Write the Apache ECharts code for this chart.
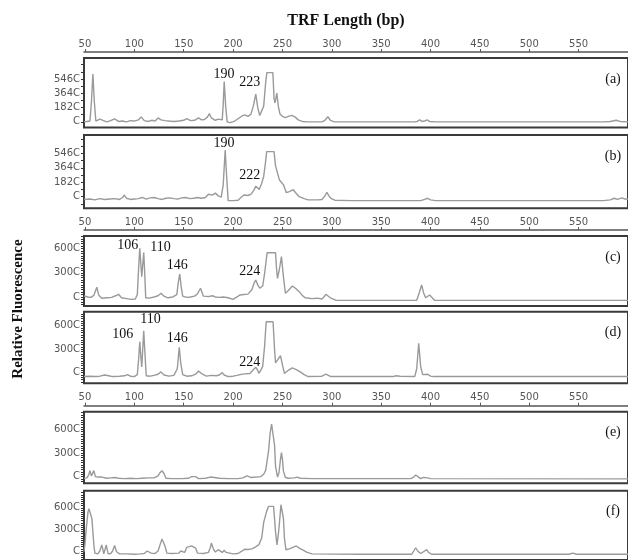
<!DOCTYPE html>
<html>
<head>
<meta charset="utf-8">
<script src="https://cdn.jsdelivr.net/npm/echarts@6/dist/echarts.min.js"></script>
<style>
  html, body { margin: 0; padding: 0; background: #fff; }
  #chart { width: 628px; height: 560px; }
</style>
</head>
<body>
<div id="chart"></div>
<script>
// TRF length ticks (bp)
const bpTicks = [50, 100, 150, 200, 250, 300, 350, 400, 450, 500, 550];

// y tick values and their labels (as printed on the scan)
const yTicksAB = [0, 1820, 3640, 5460];
const yLabelsAB = ['C', '182C', '364C', '546C'];
const yTicksCF = [0, 3000, 6000];
const yLabelsCF = ['C', '300C', '600C'];

// electropherogram traces: [bp, fluorescence]
const traceA = [[49,0],[52,50],[55,100],[56.5,2500],[58,6100],[59.5,2500],[61,100],[63,300],[65,350],[67,100],[72,0],[76,150],[80,380],[84,50],[88,100],[92,0],[96,150],[100,100],[104,250],[107,630],[110,150],[114,50],[118,200],[121,100],[124,500],[127,250],[131,150],[135,100],[140,50],[145,100],[150,200],[153,400],[157,150],[161,200],[165,500],[168,250],[171,300],[174,600],[176,1050],[178,500],[180,250],[182,200],[185,350],[187,500],[189,250],[190,2200],[191,5130],[192.5,2000],[194,0],[197,-100],[201,50],[205,400],[209,750],[212,900],[215,700],[218,950],[220.5,2000],[223,3540],[225,1800],[227,800],[229,700],[231,2000],[233,5000],[234.2,6270],[240.3,6270],[241.5,3000],[242.5,2400],[244.3,3670],[245.8,2000],[247.5,1000],[250,700],[253,550],[256,700],[259.4,830],[263,600],[266,250],[270,50],[275,0],[290,0],[293,200],[296,650],[298.5,200],[302,20],[310,0],[384,0],[386.5,50],[389,250],[391.5,50],[394,100],[396.5,250],[399,50],[405,0],[575,0],[582,50],[588,200],[592,50],[600,0]];

const traceB = [[49,-350],[55,-300],[60,-400],[65,-250],[70,-350],[75,-300],[80,-250],[85,-350],[88,-100],[90,210],[92,-200],[96,-350],[100,-300],[104,-250],[108,-100],[112,-300],[116,-150],[120,-100],[124,-250],[128,-350],[132,-200],[136,-150],[140,-250],[144,-300],[148,-150],[152,-100],[156,-250],[160,-200],[164,-100],[168,-200],[172,-100],[175,300],[177,500],[179,200],[182,450],[185,100],[188,-50],[190,1500],[192,5900],[193.5,2500],[195,-500],[200,-500],[205,-450],[208,-100],[211,210],[215,150],[218,300],[221,800],[223,1330],[225,1100],[226.5,900],[229,1700],[231,2560],[233,4500],[234,5700],[241.5,5700],[243,3900],[245,4000],[247,2100],[251,1500],[254,500],[257,650],[261,880],[264,400],[267,0],[272,-250],[276,-400],[286,-400],[290,-350],[293,100],[295,560],[297,100],[299,-200],[303,-450],[320,-500],[390,-500],[394,-350],[397,-200],[400,-400],[405,-500],[575,-500],[582,-400],[586,-200],[589,-350],[591,-250],[594,-150],[597,-300],[600,-300]];

const traceC = [[49,120],[53,0],[56,-50],[59,200],[62,1200],[64,200],[67,-150],[72,-100],[77,-50],[81,150],[84,330],[87,-100],[92,-200],[97,-300],[101,-250],[103,300],[104.5,4000],[105.5,6040],[106.5,4200],[107.5,2500],[108.5,4000],[109.5,5500],[110.5,3000],[111.5,-100],[115,-150],[120,0],[124,150],[127,460],[130,100],[134,-100],[139,0],[143,300],[144.5,1800],[146,2850],[147.5,1200],[149,100],[153,-50],[157,0],[161,100],[164,400],[167,1080],[170,100],[175,50],[179,150],[182,0],[186,-50],[190,0],[195,-100],[200,-300],[204,0],[207,250],[211,300],[215,350],[219,900],[221.5,1800],[223,2100],[225,1500],[227,1080],[230,1360],[232,3000],[234.5,5490],[243,5490],[244,3500],[245,2300],[247,3500],[249,5000],[251,2500],[253,460],[256,800],[260,1360],[264,1000],[267,660],[270,200],[273,-100],[280,-200],[285,-150],[290,-250],[292,0],[294,330],[296,100],[299,-150],[304,-400],[380,-420],[386,-400],[388.5,500],[391,1490],[393,500],[395,-100],[397,100],[399,250],[401,0],[404,-400],[600,-420]];

const traceD = [[49,-500],[55,-450],[60,-500],[65,-450],[70,-300],[72,-80],[74,-400],[78,-500],[85,-450],[90,-400],[93,-250],[96,-450],[100,-500],[103,-250],[104.5,2000],[105.5,3960],[106.5,2200],[107.5,730],[108.5,3000],[109.5,5360],[110.5,3000],[112,-400],[116,-450],[120,-350],[124,-200],[127,100],[130,-300],[135,-450],[140,-350],[143.5,500],[145.5,3240],[147,1200],[149,-250],[153,-450],[158,-400],[162,-200],[165,200],[167,300],[169,-200],[173,-450],[178,-350],[183,-400],[186,-300],[189,0],[191,-300],[195,-500],[200,-450],[204,-350],[207,-250],[212,-150],[217,-100],[220,300],[223,690],[225,300],[226,-80],[228,300],[230,800],[232,3500],[233.5,6500],[240.5,6500],[242,3000],[243,1240],[246,1800],[248,2170],[250,1000],[252,-100],[256,300],[260,600],[264,400],[268,100],[272,-250],[276,-500],[290,-450],[292,-300],[294,-200],[296,-350],[299,-500],[362,-500],[365,-400],[367,-250],[369,-450],[384,-500],[386,500],[388,3750],[390,800],[392,-250],[394,-350],[397,-200],[400,-450],[403,-500],[600,-500]];

const traceE = [[49,-200],[52,-150],[54,300],[55,760],[56.5,100],[58,300],[59,760],[60.5,0],[63,-50],[65,200],[67,-50],[72,-200],[76,-150],[80,-100],[84,-200],[90,-250],[96,-200],[102,-250],[108,-200],[114,-150],[120,-150],[124,100],[126,500],[128,760],[130,400],[132,-200],[138,-250],[148,-250],[155,-200],[158,0],[160,150],[162,0],[165,-250],[172,-200],[177,-50],[179,100],[181,-100],[186,-200],[195,-250],[205,-250],[210,-150],[214,100],[218,-100],[224,-50],[228,0],[231,300],[233,800],[236,3330],[237.5,5500],[239,6670],[241,6670],[242,4000],[243,1300],[245,-50],[246.5,500],[248,2200],[249,3040],[250,2200],[251,700],[253,-100],[256,-200],[262,-150],[265,-50],[268,-200],[280,-250],[380,-250],[383,-50],[385,210],[387,0],[390,-250],[393,-100],[395,0],[397,-150],[400,-250],[600,-280]];

const traceF = [[49,-100],[50,1000],[51,2650],[53,5400],[54,5860],[56,5860],[57,4500],[58,2650],[59,800],[60,-300],[63,-400],[65,0],[67,850],[68,300],[69,-400],[70.5,300],[71.5,850],[72.5,200],[73.5,-400],[76,-350],[78,0],[80,760],[82,-100],[85,-400],[92,-400],[100,-450],[106,-400],[110,-350],[113,0],[115,180],[117,-300],[121,-350],[124,0],[126,850],[128,1660],[130,1400],[131,700],[133,-300],[138,-350],[145,-300],[147,0],[149,180],[151,-200],[153,500],[155,760],[158,700],[160,760],[162,400],[164,-300],[170,-350],[175,-200],[177,500],[178,1100],[180,300],[182,-150],[185,180],[187,0],[189,-200],[191,100],[193,-200],[195,-400],[200,-400],[205,-350],[208,-100],[212,250],[215,200],[219,300],[222,500],[226,850],[229,1800],[231,3970],[234,5500],[236,6200],[241,6200],[242,4500],[243,2650],[244.5,850],[246,2500],[247,3970],[248.5,6420],[250,6420],[251,4500],[252,1800],[253.5,180],[257,300],[260,480],[264,700],[267,400],[270,180],[275,-200],[280,-400],[330,-450],[332,-300],[334,-450],[360,-450],[362,-300],[364,-450],[381,-450],[383,0],[385,450],[387,0],[390,-350],[393,-100],[396,180],[398,-200],[401,-450],[540,-450],[544,-300],[548,-450],[600,-450]];

// peak annotations: [bp, fluorescence, text]
const notesA = [[190.7, 6100, '190'], [216.8, 4970, '223']];
const notesB = [[190.7, 6790, '190'], [216.8, 2740, '222']];
const notesC = [[93.2, 6450, '106'], [126.4, 6200, '110'], [143.5, 3970, '146'], [216.8, 3220, '224']];
const notesD = [[88.2, 4940, '106'], [116.3, 6860, '110'], [143.5, 4430, '146'], [216.8, 1370, '224']];

// panel layout
const panels = [
    { tag: '(a)', trace: traceA, notes: notesA, top: 58,    height: 69.5, min: -720,  max: 8130, ab: true,  axis: true },
    { tag: '(b)', trace: traceB, notes: notesB, top: 135,   height: 73.3, min: -1470, max: 7800, ab: true,  axis: false },
    { tag: '(c)', trace: traceC, notes: notesC, top: 236,   height: 70,   min: -1120, max: 7560, ab: false, axis: true },
    { tag: '(d)', trace: traceD, notes: notesD, top: 311.7, height: 71.6, min: -1360, max: 7790, ab: false, axis: false },
    { tag: '(e)', trace: traceE, notes: [],     top: 411.7, height: 71.6, min: -840,  max: 8230, ab: false, axis: true },
    { tag: '(f)', trace: traceF, notes: [],     top: 490.7, height: 72,   min: -1250, max: 8370, ab: false, axis: false }
];

const serif = '"Liberation Serif", "DejaVu Serif", serif';
const sans = '"DejaVu Sans", "Liberation Sans", sans-serif';

const chart = echarts.init(document.getElementById('chart'));

const grids = [], xAxes = [], yAxes = [], series = [], graphics = [];

panels.forEach(function (p, i) {
    grids.push({
        left: 84, top: p.top, width: 548, height: p.height,
        show: true, borderColor: '#3a3a3a', borderWidth: 2, backgroundColor: 'transparent'
    });

    xAxes.push({
        gridIndex: i, type: 'value', min: 49, max: 600,
        show: p.axis, position: 'top', offset: 6,
        axisLine: { show: true, onZero: false, lineStyle: { color: '#555', width: 1.5 } },
        axisTick: { show: true, length: 3, customValues: bpTicks, lineStyle: { color: '#555' } },
        axisLabel: { customValues: bpTicks, margin: 3, fontSize: 10, color: '#555', fontFamily: sans },
        splitLine: { show: false }
    });

    const ticks = p.ab ? yTicksAB : yTicksCF;
    const labels = p.ab ? yLabelsAB : yLabelsCF;
    // dense small tick marks along the left edge
    const step = p.ab ? 910 : 300;
    const dense = [];
    for (let v = Math.ceil(p.min / step) * step; v <= p.max; v += step) dense.push(v);

    yAxes.push({
        gridIndex: i, type: 'value', min: p.min, max: p.max,
        axisLine: { show: false, onZero: false },
        axisTick: { show: true, length: 3, customValues: dense, lineStyle: { color: '#333' } },
        axisLabel: {
            customValues: ticks, margin: 4, fontSize: 10, color: '#555', fontFamily: sans,
            formatter: function (v) { return labels[ticks.indexOf(v)]; }
        },
        splitLine: { show: false }
    });

    series.push({
        type: 'line', xAxisIndex: i, yAxisIndex: i,
        data: p.trace, showSymbol: false, clip: true,
        lineStyle: { color: '#9a9a9a', width: 1.4 },
        markPoint: {
            symbol: 'circle', symbolSize: 0,
            label: {
                show: true, position: 'inside', formatter: function (d) { return d.name; },
                fontFamily: serif, fontSize: 14, color: '#111'
            },
            data: p.notes.map(function (n) { return { name: n[2], coord: [n[0], n[1]] }; })
        }
    });

    graphics.push({
        type: 'text', x: 613, y: p.top + 21,
        style: { text: p.tag, font: '14px ' + serif, fill: '#111', textAlign: 'center', textVerticalAlign: 'middle' }
    });
});

graphics.push({
    type: 'text', x: 346, y: 21,
    style: { text: 'TRF Length (bp)', font: 'bold 16px ' + serif, fill: '#111', textAlign: 'center', textVerticalAlign: 'middle' }
});
graphics.push({
    type: 'text', x: 18, y: 309, rotation: Math.PI / 2,
    style: { text: 'Relative Fluorescence', font: 'bold 15px ' + serif, fill: '#111', textAlign: 'center', textVerticalAlign: 'middle' }
});

chart.setOption({
    animation: false,
    grid: grids,
    xAxis: xAxes,
    yAxis: yAxes,
    series: series,
    graphic: graphics
});
</script>
</body>
</html>
